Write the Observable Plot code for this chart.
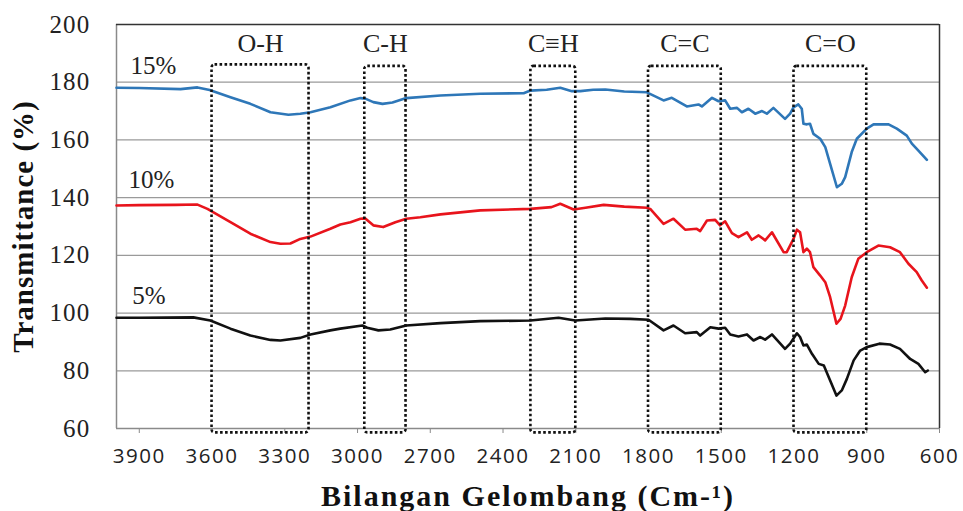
<!DOCTYPE html>
<html><head><meta charset="utf-8">
<script src="https://cdn.jsdelivr.net/npm/d3@7"></script>
<script src="https://cdn.jsdelivr.net/npm/@observablehq/plot@0.6"></script>
<style>
html,body{margin:0;padding:0;background:#fff;}
#chart svg{display:block;}
[aria-label="x-axis tick label"] text{letter-spacing:1.5px;}
[aria-label="y-axis tick label"] text{letter-spacing:1.2px;}
[aria-label="x-axis label"] text{letter-spacing:2px;}
[aria-label="y-axis label"] text{letter-spacing:1px;}
[aria-label="box label"] text{letter-spacing:4px;}
[aria-label="series label"] text{letter-spacing:3.5px;}
</style>
</head><body><div id="chart"></div>
<script>
// ---- data ----
const xTicks = [3900,3600,3300,3000,2700,2400,2100,1800,1500,1200,900,600];
const yTicks = [60,80,100,120,140,160,180,200];
const xDomain = [3994, 600];
const yDomain = [60, 200];

const seriesNames = ["15%","10%","5%"];

const wn15 = [3994,3900,3730,3660,3610,3524,3442,3359,3285,3236,3194,3112,3029,2988,2968,2935,2897,2856,2799,2658,2494,2315,2287,2220,2164,2116,2081,2028,1978,1900,1807,1738,1704,1642,1594,1580,1538,1511,1484,1463,1435,1415,1388,1360,1332,1312,1285,1237,1216,1202,1182,1168,1161,1147,1134,1120,1092,1071,1051,1023,1003,989,962,941,900,872,810,776,735,714,687,652];
const t15 = [178.1,178.0,177.6,178.2,177.3,174.8,172.5,169.6,168.7,169.1,169.6,171.3,173.7,174.5,174.3,173.1,172.5,173.0,174.5,175.4,176.0,176.2,177.1,177.4,178.1,176.9,176.9,177.4,177.5,176.8,176.5,173.7,174.6,171.6,172.3,171.6,174.6,173.4,173.7,170.8,171.1,169.6,170.8,169.1,170.0,169.1,171.1,167.3,169.1,171.3,172.3,170.8,165.6,165.4,165.6,162.1,160.4,157.5,151.7,143.6,144.8,147.1,155.8,160.4,163.9,165.4,165.4,163.9,161.5,158.7,156.3,153.1];

const wn10 = [3994,3900,3750,3660,3619,3524,3442,3359,3318,3277,3236,3194,3112,3071,3029,2988,2968,2935,2894,2844,2799,2741,2658,2494,2287,2200,2164,2109,2060,1985,1900,1807,1793,1738,1697,1649,1601,1587,1559,1525,1505,1484,1456,1429,1394,1374,1346,1319,1291,1243,1230,1202,1188,1175,1161,1147,1134,1120,1092,1071,1051,1025,1008,989,962,935,900,852,804,763,728,694,673,652];
const t10 = [137.3,137.4,137.5,137.6,136.1,131.5,127.5,124.6,124.0,124.1,125.7,126.5,129.2,130.7,131.5,132.7,132.8,130.4,129.8,131.5,132.7,133.2,134.2,135.6,136.1,136.7,137.9,135.9,136.5,137.5,136.9,136.5,136.1,130.9,132.7,128.9,129.2,128.4,132.1,132.3,130.4,131.8,127.7,126.3,128.0,125.4,126.9,125.2,128.0,121.1,121.1,125.7,128.9,128.0,121.1,122.3,121.1,115.9,113.0,110.7,105.5,96.3,98.0,102.6,112.4,118.8,121.1,123.4,122.8,121.1,117.1,114.2,111.3,108.8];

const wn5 = [3994,3900,3677,3607,3524,3442,3359,3318,3236,3194,3112,3071,2980,2960,2914,2865,2799,2658,2494,2287,2171,2102,1978,1875,1800,1738,1697,1649,1601,1587,1545,1511,1484,1463,1429,1394,1367,1339,1319,1291,1237,1216,1188,1175,1161,1147,1126,1098,1077,1051,1025,1003,982,954,927,900,848,804,763,721,687,659,648];
const t5 = [98.4,98.4,98.5,97.4,94.6,92.2,90.7,90.5,91.4,92.6,94.0,94.6,95.7,94.9,94.0,94.3,95.7,96.5,97.2,97.4,98.4,97.4,98.1,98.0,97.7,94.0,95.7,93.0,93.4,92.2,95.1,94.6,94.9,92.6,91.9,92.6,90.5,91.7,90.8,92.6,87.6,89.4,93.0,91.7,88.8,89.1,85.9,82.4,81.8,76.6,71.4,73.2,77.2,83.6,87.0,88.2,89.4,89.1,87.6,84.1,82.4,79.5,80.1];

const boxLabels = ["O-H","C-H","C\u2261H","C=C","C=O"];
const boxFrom = [3600,2970,2285,1800,1200];
const boxTo = [3200,2800,2100,1500,900];
const boxTop = [186,185.5,185.5,185.5,185.5];

// ---- build tables ----
const toRows = (wn, t, s) => wn.map((w, i) => ({wn: w, t: t[i], s}));
const rows15 = toRows(wn15, t15, seriesNames[0]);
const rows10 = toRows(wn10, t10, seriesNames[1]);
const rows5 = toRows(wn5, t5, seriesNames[2]);
const boxes = boxLabels.map((l, i) => ({label: l, from: boxFrom[i], to: boxTo[i], top: boxTop[i]}));
const seriesLabels = [
  {name: seriesNames[0], x: 3936, y: 182.9},
  {name: seriesNames[1], x: 3944, y: 143.2},
  {name: seriesNames[2], x: 3929, y: 103.0}
];

const serif = "'Liberation Serif','Times New Roman',serif";
const sans = "'Open Sans','Liberation Sans',sans-serif";
const fmt = d => String(d);

const chart = Plot.plot({
  width: 963,
  height: 511,
  marginLeft: 116,
  marginRight: 24,
  marginTop: 24,
  marginBottom: 83,
  style: {background: "#fff", overflow: "visible"},
  x: {domain: xDomain},
  y: {domain: yDomain},
  marks: [
    Plot.gridY(yTicks.filter(d => d > 60 && d < 200), {stroke: "#9a9a9a", strokeOpacity: 1, strokeWidth: 1.3}),
    Plot.ruleX([xDomain[0]], {stroke: "#8a8a8a", strokeWidth: 1.5}),
    Plot.ruleY([yDomain[0]], {stroke: "#8a8a8a", strokeWidth: 1.5}),
    Plot.ruleY([yDomain[1]], {stroke: "#333", strokeWidth: 1.5}),
    Plot.ruleX([xDomain[1]], {stroke: "#333", strokeWidth: 1.5}),
    Plot.axisX({ticks: xTicks, tickFormat: fmt, tickSize: 5, tickPadding: 15, stroke: "#8a8a8a",
      fontSize: 20.5, fontFamily: sans, fill: "#222", label: null}),
    Plot.axisX({ticks: [], tickSize: 0, label: "Bilangan Gelombang (Cm-\u00b9)", labelArrow: "none",
      labelAnchor: "center", labelOffset: 77, fontSize: 30, fontWeight: "bold", fontFamily: serif, fill: "#111"}),
    Plot.axisY({ticks: yTicks, tickFormat: fmt, tickSize: 0, tickPadding: 26,
      fontSize: 25, fontFamily: serif, fill: "#222", label: null}),
    Plot.axisY({ticks: [], tickSize: 0, label: "Transmittance (%)", labelArrow: "none",
      labelAnchor: "center", labelOffset: 104, fontSize: 29, fontWeight: "bold", fontFamily: serif, fill: "#111"}),
    Plot.line(rows15, {x: "wn", y: "t", stroke: "#2e77b8", strokeWidth: 2.6}),
    Plot.line(rows10, {x: "wn", y: "t", stroke: "#e8141c", strokeWidth: 2.6}),
    Plot.line(rows5, {x: "wn", y: "t", stroke: "#111", strokeWidth: 2.6}),
    Plot.rect(boxes, {x1: "from", x2: "to", y1: "top", y2: () => 58.5, fill: "none", stroke: "#111",
      strokeWidth: 2.6, strokeDasharray: "2.6,2.4", rx: 3}),
    Plot.text(boxes, {x: d => (d.from + d.to) / 2, y: () => 190.5, text: "label", lineAnchor: "bottom",
      fontSize: 26, fontFamily: serif, fill: "#222", ariaLabel: "box label"}),
    Plot.text(seriesLabels, {x: "x", y: "y", text: "name", textAnchor: "start", lineAnchor: "bottom",
      fontSize: 25, fontFamily: serif, fill: "#222", ariaLabel: "series label"})
  ]
});
document.getElementById("chart").append(chart);
</script>
</body></html>
